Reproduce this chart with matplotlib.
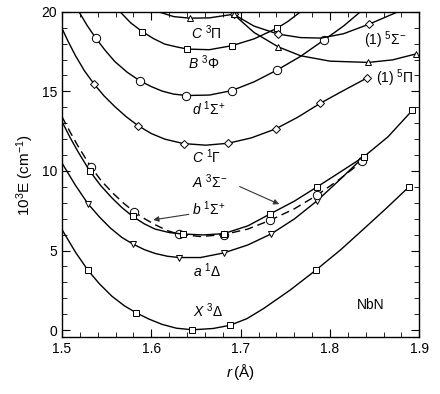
import matplotlib.pyplot as plt
import numpy as np

plt.rcParams['font.family'] = ['Liberation Sans', 'DejaVu Sans']
plt.rcParams['mathtext.fontset'] = 'custom'
plt.rcParams['mathtext.rm'] = 'Liberation Sans'
plt.rcParams['mathtext.it'] = 'Liberation Sans:italic'
plt.rcParams['mathtext.bf'] = 'Liberation Sans:bold'

# curve shapes (r in Angstrom, E in 1000 cm^-1)
X_r = [1.500, 1.515, 1.529, 1.542, 1.556, 1.570, 1.583, 1.597, 1.612, 1.628, 1.646, 1.669, 1.688, 1.707, 1.7255, 1.7555, 1.784, 1.812, 1.838, 1.862, 1.888]
X_E = [6.31, 4.90, 3.76, 2.90, 2.12, 1.52, 1.09, 0.70, 0.36, 0.12, 0.02, 0.10, 0.30, 0.72, 1.35, 2.52, 3.76, 5.05, 6.37, 7.60, 8.98]
X_mr = [1.529, 1.583, 1.646, 1.688, 1.784, 1.888]
X_mE = [3.76, 1.09, 0.02, 0.30, 3.76, 8.98]

a_r = [1.500, 1.515, 1.529, 1.542, 1.554, 1.567, 1.580, 1.592, 1.604, 1.618, 1.631, 1.655, 1.681, 1.708, 1.734, 1.760, 1.785, 1.810, 1.838]
a_E = [10.49, 9.10, 7.94, 7.10, 6.42, 5.82, 5.39, 5.06, 4.82, 4.64, 4.56, 4.56, 4.85, 5.35, 6.04, 6.98, 8.10, 9.40, 10.9]
a_mr = [1.529, 1.580, 1.631, 1.681, 1.734, 1.785, 1.838]
a_mE = [7.94, 5.39, 4.56, 4.85, 6.04, 8.10, 10.9]

A_r = [1.500, 1.509, 1.518, 1.531, 1.543, 1.556, 1.567, 1.579, 1.592, 1.604, 1.620, 1.635, 1.658, 1.681, 1.708, 1.733, 1.760, 1.785, 1.810, 1.838, 1.865, 1.892]
A_E = [13.1, 12.1, 11.2, 10.0, 9.1, 8.3, 7.7, 7.15, 6.68, 6.35, 6.13, 6.04, 5.98, 6.06, 6.55, 7.30, 8.10, 8.98, 9.88, 10.9, 12.15, 13.8]
A_mr = [1.531, 1.579, 1.635, 1.681, 1.733, 1.785, 1.838, 1.892]
A_mE = [10.0, 7.15, 6.04, 6.06, 7.30, 8.98, 10.9, 13.8]

b_r = [1.500, 1.509, 1.518, 1.532, 1.544, 1.557, 1.569, 1.581, 1.593, 1.605, 1.618, 1.631, 1.655, 1.681, 1.708, 1.733, 1.760, 1.785, 1.810, 1.836]
b_E = [13.4, 12.45, 11.55, 10.28, 9.38, 8.60, 7.97, 7.42, 6.98, 6.60, 6.25, 6.02, 5.88, 6.00, 6.35, 6.90, 7.62, 8.46, 9.45, 10.6]
b_mr = [1.532, 1.581, 1.631, 1.681, 1.733, 1.785, 1.836]
b_mE = [10.28, 7.42, 6.02, 6.00, 6.90, 8.46, 10.6]

CG_r = [1.500, 1.507, 1.515, 1.525, 1.536, 1.547, 1.559, 1.572, 1.585, 1.600, 1.615, 1.636, 1.661, 1.686, 1.712, 1.739, 1.764, 1.789, 1.815, 1.841]
CG_E = [18.95, 18.12, 17.25, 16.3, 15.45, 14.72, 14.05, 13.4, 12.85, 12.35, 12.0, 11.72, 11.62, 11.74, 12.08, 12.64, 13.38, 14.25, 15.05, 15.83]
CG_mr = [1.536, 1.585, 1.636, 1.686, 1.739, 1.789, 1.841]
CG_mE = [15.45, 12.85, 11.72, 11.74, 12.64, 14.25, 15.83]

d_r = [1.519, 1.528, 1.538, 1.548, 1.559, 1.573, 1.587, 1.600, 1.612, 1.625, 1.639, 1.665, 1.690, 1.715, 1.741, 1.767, 1.793, 1.815, 1.834]
d_E = [20.0, 19.15, 18.33, 17.6, 16.88, 16.2, 15.67, 15.3, 15.02, 14.83, 14.74, 14.77, 15.05, 15.6, 16.35, 17.2, 18.22, 19.1, 20.0]
d_mr = [1.538, 1.587, 1.639, 1.690, 1.741, 1.793]
d_mE = [18.33, 15.67, 14.74, 15.05, 16.35, 18.22]

B_r = [1.565, 1.577, 1.590, 1.602, 1.615, 1.628, 1.640, 1.665, 1.690, 1.715, 1.741, 1.753, 1.767]
B_E = [20.0, 19.3, 18.75, 18.33, 17.97, 17.8, 17.66, 17.62, 17.87, 18.3, 18.98, 19.4, 20.0]
B_mr = [1.590, 1.640, 1.690, 1.741]
B_mE = [18.75, 17.66, 17.87, 18.98]

CP_r = [1.608, 1.625, 1.643, 1.665, 1.692, 1.700]
CP_E = [20.0, 19.7, 19.6, 19.62, 19.85, 20.0]
CP_mr = [1.643, 1.692]
CP_mE = [19.6, 19.85]

S5_r = [1.692, 1.715, 1.742, 1.767, 1.790, 1.815, 1.844, 1.876]
S5_E = [19.85, 19.1, 18.6, 18.38, 18.35, 18.62, 19.23, 20.0]
S5_mr = [1.692, 1.742, 1.844]
S5_mE = [19.85, 18.6, 19.23]

P5_r = [1.692, 1.715, 1.742, 1.767, 1.800, 1.843, 1.870, 1.896]
P5_E = [19.85, 18.7, 17.8, 17.24, 16.9, 16.82, 16.98, 17.35]
P5_mr = [1.692, 1.742, 1.843, 1.896]
P5_mE = [19.85, 17.8, 16.82, 17.35]

fig = plt.figure(figsize=(4.4, 3.94), dpi=100)
ax = fig.add_axes([0.141, 0.144, 0.812, 0.826])

def curve(r, E, mr, mE, marker, ms=4, ls='-'):
    if ls == '--':
        ax.plot(r, E, color='black', lw=1.0, ls='--', dashes=(6, 3.5))
    else:
        ax.plot(r, E, color='black', lw=1.0)
    ax.plot(mr, mE, ls='none', marker=marker, ms=ms, mfc='white', mec='black', mew=0.7)

curve(X_r, X_E, X_mr, X_mE, 's')
curve(a_r, a_E, a_mr, a_mE, 'v', ms=4.5)
curve(b_r, b_E, b_mr, b_mE, 'o', ms=6, ls='--')
curve(A_r, A_E, A_mr, A_mE, 's')
curve(CG_r, CG_E, CG_mr, CG_mE, 'D', ms=3.8)
curve(d_r, d_E, d_mr, d_mE, 'o', ms=6)
curve(B_r, B_E, B_mr, B_mE, 's')
curve(CP_r, CP_E, CP_mr, CP_mE, '^', ms=4.5)
curve(S5_r, S5_E, S5_mr, S5_mE, 'D', ms=3.8)
curve(P5_r, P5_E, P5_mr, P5_mE, '^', ms=4.5)

fs = 10
ax.text(1.662, 18.7, r'$C\ ^3\Pi$', fontsize=fs, ha='center', va='center')
ax.text(1.658, 16.8, r'$B\ ^3\Phi$', fontsize=fs, ha='center', va='center')
ax.text(1.664, 13.9, r'$d\ ^1\Sigma^{+}$', fontsize=fs, ha='center', va='center')
ax.text(1.862, 18.2, r'(1) $^5\Sigma^{-}$', fontsize=fs, ha='center', va='center')
ax.text(1.873, 15.8, r'(1) $^5\Pi$', fontsize=fs, ha='center', va='center')
ax.text(1.662, 10.9, r'$C\ ^1\Gamma$', fontsize=fs, ha='center', va='center')
ax.text(1.666, 9.3, r'$A\ ^3\Sigma^{-}$', fontsize=fs, ha='center', va='center')
ax.text(1.664, 7.6, r'$b\ ^1\Sigma^{+}$', fontsize=fs, ha='center', va='center')
ax.text(1.662, 3.76, r'$a\ ^1\Delta$', fontsize=fs, ha='center', va='center')
ax.text(1.664, 1.2, r'$X\ ^3\Delta$', fontsize=fs, ha='center', va='center')
ax.text(1.845, 1.57, 'NbN', fontsize=fs, ha='center', va='center')

arrow = dict(arrowstyle='-|>', color='#333333', lw=0.8, mutation_scale=8)
ax.annotate('', xy=(1.746, 7.84), xytext=(1.696, 9.09), arrowprops=arrow)
ax.annotate('', xy=(1.599, 6.9), xytext=(1.645, 7.3), arrowprops=arrow)

ax.set_xlim(1.5, 1.9)
ax.set_ylim(-0.45, 20)
ax.set_xticks([1.5, 1.6, 1.7, 1.8, 1.9])
ax.set_xticks(np.arange(1.5, 1.9001, 0.02), minor=True)
ax.set_yticks([0, 5, 10, 15, 20])
ax.set_yticks(np.arange(0, 21, 1), minor=True)
ax.tick_params(which='both', direction='in', top=True, right=True, labelsize=fs)
ax.tick_params(which='major', length=6)
ax.tick_params(which='minor', length=3.5)
ax.set_xlabel(r'$r\,$(Å)', fontsize=fs + 1)
ax.set_ylabel(r'10$^3$E (cm$^{-1}$)', fontsize=fs + 1)
for s in ax.spines.values():
    s.set_linewidth(1.0)

plt.savefig('out.png', dpi=100)
